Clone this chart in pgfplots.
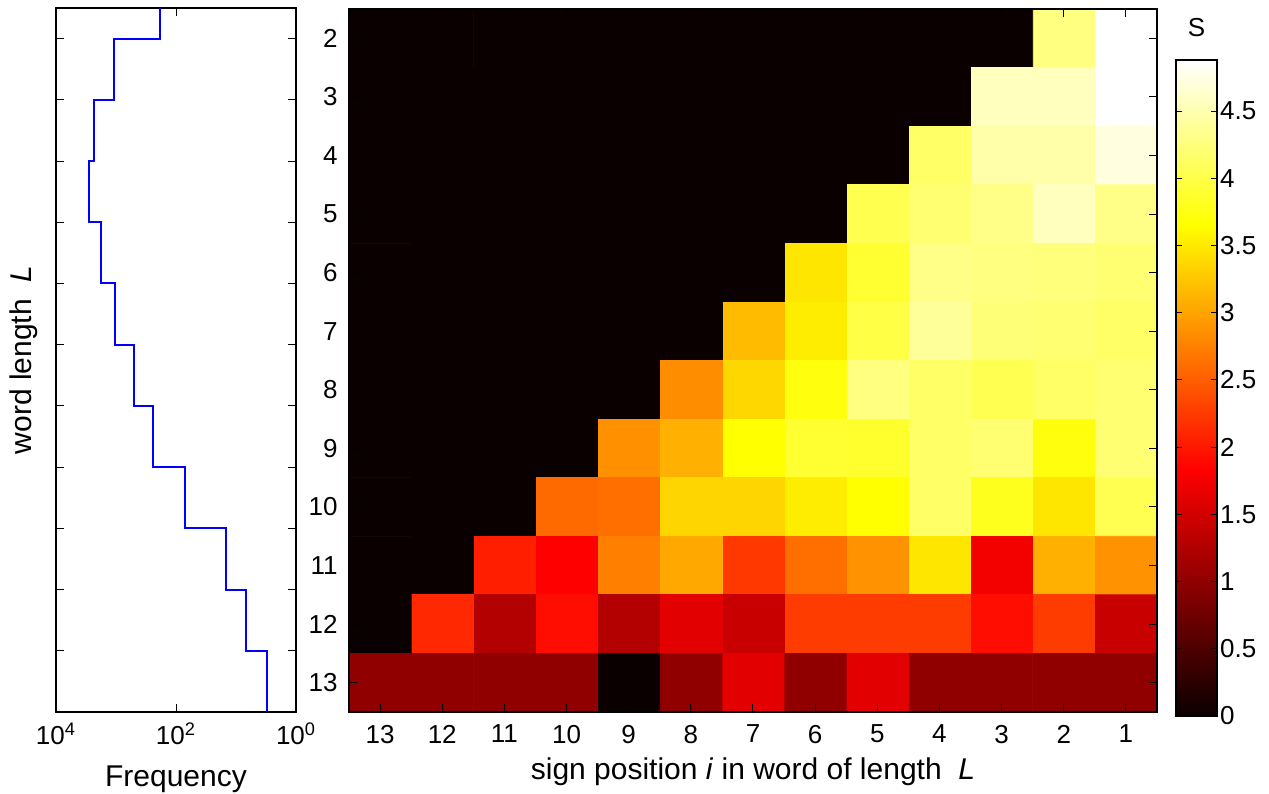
\documentclass[border=0pt]{standalone}
\usepackage{fontspec}
\setmainfont{Liberation Sans}
\usepackage{pgfplots}
\pgfplotsset{compat=1.18}
\usepackage{pgfplotstable}
\pgfkeys{/pgf/number format/assume math mode=true}

\pgfplotstableread{
i L S
1 2 4.88
2 2 4.27
3 2 0
4 2 0
5 2 0
6 2 0
7 2 0
8 2 0
9 2 0
10 2 0
11 2 0
12 2 0
13 2 0
1 3 4.88
2 3 4.57
3 3 4.57
4 3 0
5 3 0
6 3 0
7 3 0
8 3 0
9 3 0
10 3 0
11 3 0
12 3 0
13 3 0
1 4 4.73
2 4 4.47
3 4 4.47
4 4 4.15
5 4 0
6 4 0
7 4 0
8 4 0
9 4 0
10 4 0
11 4 0
12 4 0
13 4 0
1 5 4.31
2 5 4.57
3 5 4.31
4 5 4.20
5 5 4.04
6 5 0
7 5 0
8 5 0
9 5 0
10 5 0
11 5 0
12 5 0
13 5 0
1 6 4.20
2 6 4.25
3 6 4.27
4 6 4.31
5 6 3.90
6 6 3.48
7 6 0
8 6 0
9 6 0
10 6 0
11 6 0
12 6 0
13 6 0
1 7 4.15
2 7 4.20
3 7 4.23
4 7 4.39
5 7 3.99
6 7 3.53
7 7 3.17
8 7 0
9 7 0
10 7 0
11 7 0
12 7 0
13 7 0
1 8 4.20
2 8 4.15
3 8 4.05
4 8 4.15
5 8 4.27
6 8 3.72
7 8 3.37
8 8 2.84
9 8 0
10 8 0
11 8 0
12 8 0
13 8 0
1 9 4.20
2 9 3.72
3 9 4.20
4 9 4.15
5 9 3.88
6 9 3.90
7 9 3.66
8 9 3.09
9 9 2.87
10 9 0
11 9 0
12 9 0
13 9 0
1 10 4.05
2 10 3.48
3 10 3.80
4 10 4.15
5 10 3.66
6 10 3.53
7 10 3.36
8 10 3.36
9 10 2.63
10 10 2.59
11 10 0
12 10 0
13 10 0
1 11 2.88
2 11 3.09
3 11 1.74
4 11 3.48
5 11 2.88
6 11 2.63
7 11 2.23
8 11 3.04
9 11 2.75
10 11 1.83
11 11 2.05
12 11 0
13 11 0
1 12 1.43
2 12 2.26
3 12 1.92
4 12 2.26
5 12 2.26
6 12 2.26
7 12 1.43
8 12 1.61
9 12 1.26
10 12 1.92
11 12 1.26
12 12 2.12
13 12 0
1 13 1.00
2 13 1.00
3 13 1.00
4 13 1.00
5 13 1.61
6 13 1.00
7 13 1.61
8 13 1.00
9 13 0
10 13 1.00
11 13 1.00
12 13 1.00
13 13 1.00
}\heatdata

\begin{document}
\begin{tikzpicture}
\useasboundingbox (0,0) rectangle (634.5pt,396.5pt);
% left frequency panel
\begin{axis}[
  at={(28pt,40.5pt)}, anchor=south west,
  scale only axis, width=120pt, height=352pt,
  xmode=log, xmin=1, xmax=10000, x dir=reverse,
  ymin=1.5, ymax=13, y dir=reverse,
  xtick={1,100,10000},
  xticklabels={10\textsuperscript{0},10\textsuperscript{2},10\textsuperscript{4}},
  xminorticks=false,
  ytick={2,...,12}, yticklabels={},
  tick align=inside, major tick length=4pt,
  tick style={black, line width=0.5pt},
  axis line style={line width=0.8pt},
  ticklabel style={font=\fontsize{13}{15}\selectfont},
  xticklabel style={yshift=-2pt},
  label style={font=\fontsize{15}{18}\selectfont},
  xlabel={Frequency},
  xlabel style={at={(axis description cs:0.5,0)}, anchor=north, inner sep=0pt, yshift=-26.5pt},
  ylabel={word length\ \ \textit{L}},
  ylabel style={at={(axis description cs:-0.046,0.5)}, anchor=south},
]
\addplot[color={rgb,255:red,0;green,0;blue,255}, line width=1pt] coordinates {
(187,1.5) (187,2) (1067,2) (1067,3) (2355,3) (2355,4) (2786,4) (2786,5)
(1799,5) (1799,6) (1052,6) (1052,7) (495,7) (495,8) (239,8) (239,9)
(71.6,9) (71.6,10) (14.7,10) (14.7,11) (6.9,11) (6.9,12) (3.0,12) (3.0,13)
};
\end{axis}
% heatmap
\begin{axis}[
  at={(174.5pt,40.5pt)}, anchor=south west,
  scale only axis, width=404pt, height=351.5pt,
  xmin=0.5, xmax=13.5, ymin=1.5, ymax=13.5,
  x dir=reverse, y dir=reverse,
  xtick={1,...,13}, ytick={2,...,13},
  tick align=inside, major tick length=4pt,
  tick style={black, line width=0.5pt},
  axis line style={line width=0.8pt},
  axis on top,
  ticklabel style={font=\fontsize{13}{15}\selectfont},
  xticklabel style={yshift=-3pt},
  yticklabel style={xshift=-2.2pt},
  label style={font=\fontsize{15}{18}\selectfont},
  xlabel={sign position \textit{i} in word of length\ \ \textit{L}},
  xlabel style={at={(axis description cs:0.5,0)}, anchor=north, inner sep=0pt, yshift=-22.5pt},
  colormap={hot}{rgb255(0cm)=(10,0,0) rgb255(3cm)=(255,0,0) rgb255(6cm)=(255,255,0) rgb255(8cm)=(255,255,255)},
  point meta min=0, point meta max=4.88,
  colorbar shift/.style={},
  colorbar/width=20.5pt,
  colorbar,
  colorbar style={
    at={(parent axis.south east)}, anchor=south west, xshift=9.5pt, yshift=-2pt,
    scale only axis, width=20.5pt, height=328pt,
    ytick={0,0.5,1,1.5,2,2.5,3,3.5,4,4.5},
    ytick pos=both, yticklabel pos=right,
    tick align=inside, major tick length=3pt,
    tick style={black, line width=0.5pt},
    axis line style={line width=0.8pt},
    axis on top,
    yticklabel style={font=\fontsize{13}{15}\selectfont, xshift=-2pt},
  },
]
\addplot[matrix plot*, mesh/cols=13, point meta=explicit] table[x=i, y=L, meta=S] {\heatdata};
\end{axis}
\node[font=\fontsize{13}{15}\selectfont] at (598.25pt,382.5pt) {S};
\end{tikzpicture}
\end{document}
